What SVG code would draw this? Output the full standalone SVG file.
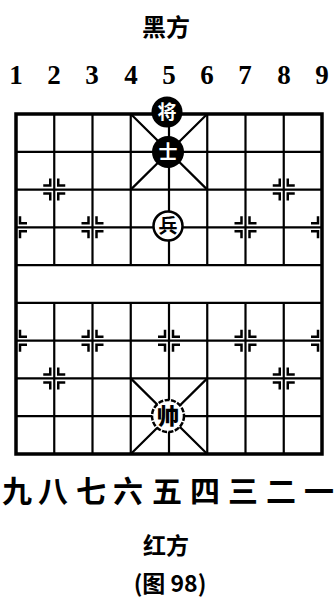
<svg xmlns="http://www.w3.org/2000/svg" xmlns:xlink="http://www.w3.org/1999/xlink" width="334" height="603" viewBox="0 0 334 603">
<style>
.t{font-family:"Noto Sans CJK SC","Noto Sans CJK JP",sans-serif;font-weight:bold;fill:#000;text-anchor:middle}
.n{font-family:"Liberation Serif",serif;font-weight:bold;font-size:27px;fill:#000;text-anchor:middle}
.g{stroke:#000;stroke-width:2.2;fill:none}
.b{stroke:#000;stroke-width:3.5;fill:none}
.m{stroke:#000;stroke-width:2.5;fill:none}
</style>
<defs>
<path id="mR" class="m" d="M11,-4 H4 V-11 M11,4 H4 V11"/>
<path id="mL" class="m" d="M-11,-4 H-4 V-11 M-11,4 H-4 V11"/>
</defs>
<rect width="334" height="603" fill="#fff"/>
<text class="t" x="166" y="36" font-size="24">黑方</text>
<g id="numbers">
<text class="n" x="16" y="84">1</text>
<text class="n" x="54" y="84">2</text>
<text class="n" x="92" y="84">3</text>
<text class="n" x="131" y="84">4</text>
<text class="n" x="169" y="84">5</text>
<text class="n" x="207" y="84">6</text>
<text class="n" x="245" y="84">7</text>
<text class="n" x="284" y="84">8</text>
<text class="n" x="322" y="84">9</text>
</g>
<g id="board">
<rect class="b" x="16" y="114" width="306" height="340"/>
<path class="g" d="M16,151.8H322M16,189.6H322M16,227.3H322M16,265.1H322M16,302.9H322M16,340.7H322M16,378.4H322M16,416.2H322"/>
<path class="g" d="M54.25,114V265.1M92.5,114V265.1M130.75,114V265.1M169,114V265.1M207.25,114V265.1M245.5,114V265.1M283.75,114V265.1"/>
<path class="g" d="M54.25,302.9V454M92.5,302.9V454M130.75,302.9V454M169,302.9V454M207.25,302.9V454M245.5,302.9V454M283.75,302.9V454"/>
<path class="g" d="M130.75,114L207.25,189.6M207.25,114L130.75,189.6M130.75,378.4L207.25,454M207.25,378.4L130.75,454"/>
</g>
<g id="markers">
<use xlink:href="#mL" x="54.25" y="189.6"/><use xlink:href="#mR" x="54.25" y="189.6"/>
<use xlink:href="#mL" x="283.75" y="189.6"/><use xlink:href="#mR" x="283.75" y="189.6"/>
<use xlink:href="#mR" x="16" y="227.3"/>
<use xlink:href="#mL" x="92.5" y="227.3"/><use xlink:href="#mR" x="92.5" y="227.3"/>
<use xlink:href="#mL" x="245.5" y="227.3"/><use xlink:href="#mR" x="245.5" y="227.3"/>
<use xlink:href="#mL" x="322" y="227.3"/>
<use xlink:href="#mR" x="16" y="340.7"/>
<use xlink:href="#mL" x="92.5" y="340.7"/><use xlink:href="#mR" x="92.5" y="340.7"/>
<use xlink:href="#mL" x="169" y="340.7"/><use xlink:href="#mR" x="169" y="340.7"/>
<use xlink:href="#mL" x="245.5" y="340.7"/><use xlink:href="#mR" x="245.5" y="340.7"/>
<use xlink:href="#mL" x="322" y="340.7"/>
<use xlink:href="#mL" x="54.25" y="378.4"/><use xlink:href="#mR" x="54.25" y="378.4"/>
<use xlink:href="#mL" x="283.75" y="378.4"/><use xlink:href="#mR" x="283.75" y="378.4"/>
</g>
<g id="black-general">
<circle cx="167" cy="112" r="15.5" fill="#000"/>
<text class="t" x="167" y="119" font-size="19" style="fill:#fff">将</text>
</g>
<g id="black-advisor">
<circle cx="168" cy="152" r="16" fill="#000"/>
<text class="t" x="168" y="159" font-size="19" style="fill:#fff">士</text>
</g>
<g id="red-soldier">
<circle cx="168" cy="226" r="14.5" fill="#fff" stroke="#000" stroke-width="2.5"/>
<text class="t" x="168" y="233" font-size="19">兵</text>
</g>
<g id="red-general">
<circle cx="168" cy="416" r="16" fill="#fff" stroke="#000" stroke-width="2.5" stroke-dasharray="5,1.5"/>
<text class="t" x="168" y="424" font-size="22" style="font-weight:900">帅</text>
</g>
<g id="columns-red">
<text class="t" x="17" y="502" font-size="30">九</text>
<text class="t" x="53" y="502" font-size="30">八</text>
<text class="t" x="91" y="502" font-size="30">七</text>
<text class="t" x="128" y="502" font-size="30">六</text>
<text class="t" x="167" y="502" font-size="30">五</text>
<text class="t" x="205" y="502" font-size="30">四</text>
<text class="t" x="243" y="502" font-size="30">三</text>
<text class="t" x="281" y="502" font-size="30">二</text>
<text class="t" x="319" y="502" font-size="30">一</text>
</g>
<text class="t" x="166" y="554" font-size="23">红方</text>
<text class="t" x="170" y="592" font-size="23">(图 98)</text>
</svg>
